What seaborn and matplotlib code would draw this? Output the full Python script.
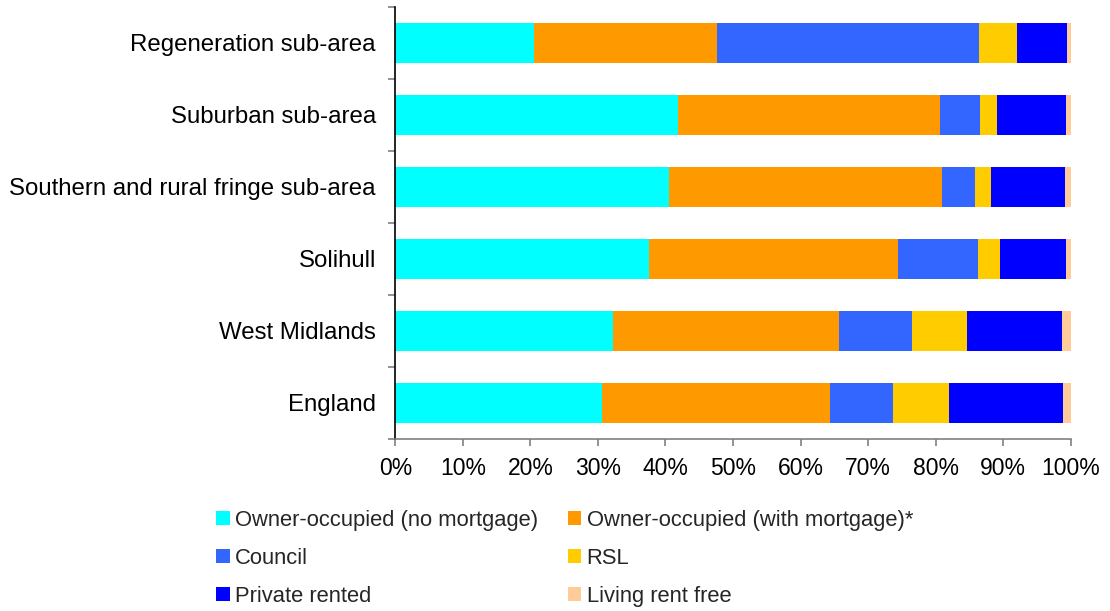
import numpy as np
import pandas as pd
import matplotlib
matplotlib.use("Agg")
import matplotlib.pyplot as plt
import seaborn as sns
from matplotlib.patches import Patch
from matplotlib.ticker import FixedLocator, PercentFormatter

areas = ["Regeneration sub-area", "Suburban sub-area",
         "Southern and rural fringe sub-area", "Solihull",
         "West Midlands", "England"]
owner_no_mortgage = [20.5, 41.9, 40.6, 37.5, 32.3, 30.6]
owner_mortgage = [27.2, 38.7, 40.4, 37.0, 33.4, 33.7]
council = [38.7, 6.0, 4.8, 11.8, 10.8, 9.4]
rsl = [5.7, 2.5, 2.4, 3.2, 8.1, 8.3]
private_rented = [7.35, 10.2, 11.0, 9.85, 14.1, 16.8]
rent_free = [0.55, 0.7, 0.8, 0.65, 1.3, 1.2]

series_names = ["Owner-occupied (no mortgage)", "Owner-occupied (with mortgage)*",
                "Council", "RSL", "Private rented", "Living rent free"]
series_values = [owner_no_mortgage, owner_mortgage, council, rsl,
                 private_rented, rent_free]
colors = ["#00FFFF", "#FF9900", "#3366FF", "#FFCC00", "#0000FF", "#FFCC99"]

sns.set_theme(style="white")
plt.rcParams["font.family"] = ["Liberation Sans", "DejaVu Sans"]

fig = plt.figure(figsize=(11.1, 6.11), dpi=100)
ax = fig.add_axes([0.3561, 0.282, 0.6085, 0.7065])

cum = np.cumsum(np.array(series_values), axis=0)
for i in range(len(series_names) - 1, -1, -1):
    df = pd.DataFrame({"area": areas, "value": cum[i]})
    sns.barplot(data=df, x="value", y="area", orient="h", color=colors[i],
                saturation=1, width=0.56, linewidth=0, ax=ax, errorbar=None)

ax.set_xlim(0, 100)
ax.set_ylim(len(areas) - 0.5, -0.5)
ax.set_xlabel("")
ax.set_ylabel("")
ax.xaxis.set_major_locator(FixedLocator(np.arange(0, 101, 10)))
ax.xaxis.set_major_formatter(PercentFormatter(decimals=0))
ax.yaxis.set_minor_locator(FixedLocator(np.arange(-0.5, len(areas), 1.0)))

for s in ["top", "right"]:
    ax.spines[s].set_visible(False)
ax.spines["left"].set_color("black")
ax.spines["left"].set_linewidth(1.2)
ax.spines["bottom"].set_color("#808080")
ax.spines["bottom"].set_linewidth(1.2)

ax.tick_params(axis="y", which="major", length=0, pad=14, labelsize=17.3,
               labelcolor="black")
ax.tick_params(axis="y", which="minor", length=5, width=1.2, color="#808080",
               direction="out", left=True)
ax.tick_params(axis="x", which="major", length=5, width=1.2, color="#808080",
               direction="out", bottom=True, pad=8.5, labelsize=16.5,
               labelcolor="black")

handles = [Patch(facecolor=c, edgecolor="none") for c in colors]
order = [0, 2, 4, 1, 3, 5]
fig.legend([handles[i] for i in order], [series_names[i] for i in order],
           ncol=2, loc="upper left", bbox_to_anchor=(0.195, 0.166),
           frameon=False, fontsize=15.8, handlelength=0.6, handleheight=0.6,
           handletextpad=0.25, columnspacing=1.35, labelspacing=0.78,
           borderpad=0, borderaxespad=0)

fig.savefig("out.png", dpi=100)
